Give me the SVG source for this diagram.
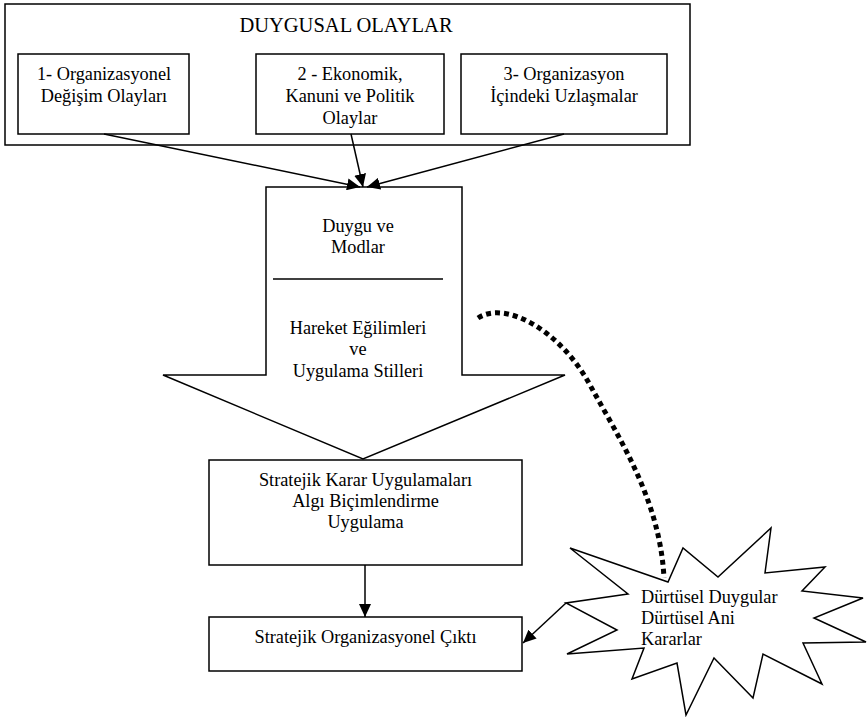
<svg xmlns="http://www.w3.org/2000/svg" width="867" height="717" viewBox="0 0 867 717">
<style>
.box{fill:#fff;stroke:#000;stroke-width:1.5}
.t{font-family:"Liberation Serif","Times New Roman",serif;font-size:18.3px;fill:#000;text-anchor:middle}
.tl{font-family:"Liberation Serif","Times New Roman",serif;font-size:18.3px;fill:#000}
.ln{stroke:#000;stroke-width:1.5;fill:none}
</style>
<defs>
<marker id="ah" markerUnits="userSpaceOnUse" markerWidth="14" markerHeight="12" refX="13" refY="6" orient="auto">
<path d="M0,0 L13,6 L0,12 Z" fill="#000"/>
</marker>
</defs>
<rect width="867" height="717" fill="#fff"/>
<g id="duygusal-olaylar">
<rect class="box" x="5" y="4" width="685" height="141"/>
<text class="t" x="346" y="32" style="font-size:20.5px">DUYGUSAL OLAYLAR</text>
</g>
<g id="olay1">
<rect class="box" x="18" y="54" width="171" height="80"/>
<text class="t" x="104" y="80">1- Organizasyonel</text>
<text class="t" x="104" y="102">Değişim Olayları</text>
</g>
<g id="olay2">
<rect class="box" x="256" y="54" width="188" height="80"/>
<text class="t" x="350" y="80">2 - Ekonomik,</text>
<text class="t" x="350" y="102">Kanuni ve Politik</text>
<text class="t" x="350" y="124">Olaylar</text>
</g>
<g id="olay3">
<rect class="box" x="461" y="54" width="206" height="80"/>
<text class="t" x="564" y="80">3- Organizasyon</text>
<text class="t" x="564" y="102">İçindeki Uzlaşmalar</text>
</g>
<g id="duygu-arrow">
<path class="box" d="M266,187 L462,187 L462,375 L565,375 L363,459 L163,375 L266,375 Z"/>
<line class="ln" x1="273" y1="279" x2="443" y2="279"/>
<text class="t" x="358" y="232">Duygu ve</text>
<text class="t" x="358" y="253">Modlar</text>
<text class="t" x="358" y="334">Hareket Eğilimleri</text>
<text class="t" x="358" y="355">ve</text>
<text class="t" x="358" y="377">Uygulama Stilleri</text>
</g>
<g id="stratejik-karar">
<rect class="box" x="209" y="460" width="313" height="105"/>
<text class="t" x="365.5" y="486">Stratejik Karar Uygulamaları</text>
<text class="t" x="365.5" y="507">Algı Biçimlendirme</text>
<text class="t" x="365.5" y="528">Uygulama</text>
</g>
<g id="stratejik-cikti">
<rect class="box" x="209" y="617" width="313" height="54"/>
<text class="t" x="365.5" y="643">Stratejik Organizasyonel Çıktı</text>
</g>
<g id="durtusel">
<path class="box" d="M570,548 L668,582 L683,548 L718,577 L771,528 L765,573 L825,567 L802,591 L863,598 L814,618 L866,642 L803,643 L822,684 L763,654 L753,698 L714,658 L686,715 L677,663 L632,679 L644,648 L567,654 L617,630 L566,603 L628,594 Z"/>
<text class="tl" x="641" y="603">Dürtüsel Duygular</text>
<text class="tl" x="641" y="624">Dürtüsel Ani</text>
<text class="tl" x="641" y="645">Kararlar</text>
</g>
<g id="connectors">
<line class="ln" x1="104" y1="134" x2="360" y2="187" marker-end="url(#ah)"/>
<line class="ln" x1="351" y1="134" x2="363" y2="187" marker-end="url(#ah)"/>
<line class="ln" x1="564" y1="134" x2="367" y2="187" marker-end="url(#ah)"/>
<line class="ln" x1="365" y1="565" x2="365" y2="617" marker-end="url(#ah)"/>
<line class="ln" x1="566" y1="603" x2="523" y2="643" marker-end="url(#ah)"/>
<path d="M478,318 C505,300 560,330 590,385 C620,440 660,500 664,578" fill="none" stroke="#000" stroke-width="5" stroke-dasharray="5 4"/>
</g>
</svg>
